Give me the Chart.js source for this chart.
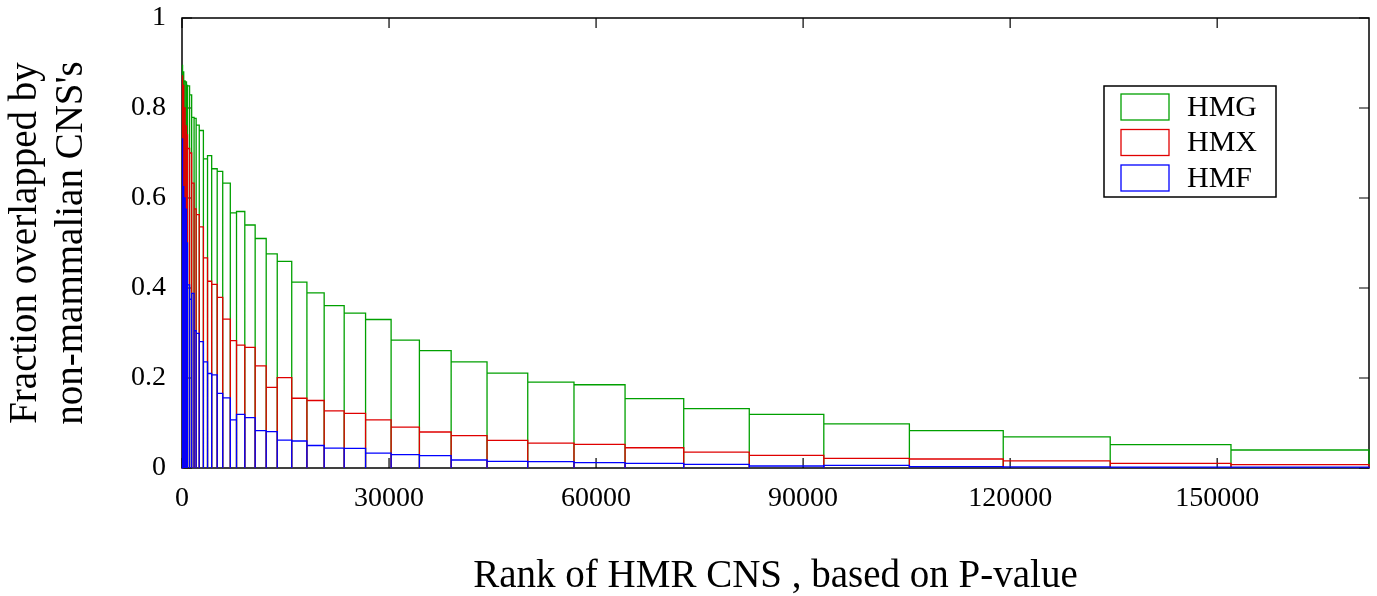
<!DOCTYPE html>
<html>
<head>
<meta charset="utf-8">
<script src="https://cdn.jsdelivr.net/npm/chart.js@4.4.0/dist/chart.umd.min.js"></script>
<style>
  html, body { margin: 0; padding: 0; background: #fff; }
</style>
</head>
<body>
<canvas id="histChart" width="1377" height="596"></canvas>
<script>
// bin edges on the rank axis (shared by all three series)
const binEdges = [0, 100, 250, 450, 650, 800, 1100, 1400, 1750, 2050, 2500, 3100, 3700, 4300,
  5100, 5900, 7000, 7900, 9100, 10600, 12200, 13800, 15900, 18100, 20600, 23500, 26600,
  30300, 34400, 39000, 44200, 50100, 56800, 64200, 72700, 82200, 93000, 105400, 119000,
  134500, 152000, 172000];

const hmgValues = [0.896, 0.88, 0.86, 0.858, 0.85, 0.849, 0.829, 0.779, 0.777, 0.762, 0.750,
  0.687, 0.694, 0.665, 0.659, 0.633, 0.567, 0.570, 0.540, 0.510, 0.476, 0.459, 0.413, 0.389,
  0.361, 0.344, 0.330, 0.284, 0.261, 0.236, 0.211, 0.191, 0.185, 0.154, 0.132, 0.119, 0.098,
  0.083, 0.069, 0.052, 0.040];

const hmxValues = [0.873, 0.85, 0.80, 0.76, 0.74, 0.710, 0.70, 0.633, 0.576, 0.563, 0.536,
  0.467, 0.415, 0.408, 0.379, 0.331, 0.283, 0.273, 0.268, 0.227, 0.179, 0.201, 0.155, 0.150,
  0.127, 0.1215, 0.107, 0.091, 0.080, 0.072, 0.0615, 0.0555, 0.0526, 0.045, 0.0355, 0.028,
  0.0215, 0.020, 0.016, 0.0104, 0.0074];

const hmfValues = [0.733, 0.625, 0.60, 0.575, 0.50, 0.407, 0.375, 0.388, 0.305, 0.299, 0.281,
  0.236, 0.210, 0.207, 0.166, 0.156, 0.107, 0.119, 0.112, 0.083, 0.081, 0.062, 0.060, 0.050,
  0.044, 0.0437, 0.033, 0.0296, 0.0274, 0.0178, 0.0148, 0.014, 0.0119, 0.0104, 0.0081, 0.0044,
  0.006, 0.003, 0.0024, 0.002, 0.002];

const xTicks = [0, 30000, 60000, 90000, 120000, 150000];
const yTicks = [0, 0.2, 0.4, 0.6, 0.8, 1];
const seriesNames = ['HMG', 'HMX', 'HMF'];
const seriesColors = ['#00a000', '#e00000', '#0000ff'];

const serif = "'Liberation Serif', 'DejaVu Serif', serif";

// trace each bin as a closed rectangle from the baseline
function outline(values) {
  const pts = [];
  values.forEach((v, i) => {
    pts.push({x: binEdges[i], y: 0});
    pts.push({x: binEdges[i], y: v});
    pts.push({x: binEdges[i + 1], y: v});
    pts.push({x: binEdges[i + 1], y: 0});
  });
  return pts;
}

const allValues = [hmgValues, hmxValues, hmfValues];
const datasets = seriesNames.map((name, i) => ({
  label: name,
  data: outline(allValues[i]),
  borderColor: seriesColors[i],
  borderWidth: 1.3,
  pointRadius: 0,
  fill: false,
  tension: 0,
  clip: 4,
  order: 2 - i
}));

const axesPlugin = {
  id: 'matlabAxes',
  beforeDatasetsDraw(chart) {
    const {ctx, chartArea: a, scales: {x, y}} = chart;
    ctx.save();
    ctx.strokeStyle = '#000';
    ctx.lineWidth = 1.5;
    ctx.strokeRect(a.left, a.top, a.right - a.left, a.bottom - a.top);
    ctx.lineWidth = 1.2;
    ctx.beginPath();
    xTicks.forEach(t => {
      const px = x.getPixelForValue(t);
      ctx.moveTo(px, a.bottom); ctx.lineTo(px, a.bottom - 10);
      ctx.moveTo(px, a.top); ctx.lineTo(px, a.top + 10);
    });
    yTicks.forEach(t => {
      const py = y.getPixelForValue(t);
      ctx.moveTo(a.left, py); ctx.lineTo(a.left + 10, py);
      ctx.moveTo(a.right, py); ctx.lineTo(a.right - 10, py);
    });
    ctx.stroke();
    ctx.restore();
  },
  afterDraw(chart) {
    const {ctx, chartArea: a} = chart;
    const boxL = a.right - 265, boxT = a.top + 68;
    ctx.save();
    ctx.fillStyle = '#fff';
    ctx.fillRect(boxL, boxT, 172, 111);
    ctx.strokeStyle = '#000';
    ctx.lineWidth = 1.5;
    ctx.strokeRect(boxL, boxT, 172, 111);
    ctx.font = '30px ' + serif;
    ctx.textBaseline = 'middle';
    chart.data.datasets.forEach((ds, i) => {
      const rowT = boxT + 8 + i * 35.5;
      ctx.strokeStyle = ds.borderColor;
      ctx.lineWidth = 1.3;
      ctx.strokeRect(boxL + 17, rowT, 48, 26);
      ctx.fillStyle = '#000';
      ctx.fillText(ds.label, boxL + 83, rowT + 14);
    });
    ctx.restore();
  }
};

new Chart(document.getElementById('histChart'), {
  type: 'line',
  data: {datasets: datasets},
  plugins: [axesPlugin],
  options: {
    responsive: false,
    animation: false,
    layout: {padding: {top: 18, right: 8, left: 0, bottom: 0}},
    plugins: {legend: {display: false}, tooltip: {enabled: false}},
    scales: {
      x: {
        type: 'linear',
        min: 0,
        max: 172000,
        afterBuildTicks: s => { s.ticks = xTicks.map(v => ({value: v})); },
        afterFit: s => { s.height = 128; s.paddingLeft = 0; s.paddingRight = 0; },
        grid: {display: false, drawTicks: false},
        border: {display: false},
        ticks: {
          color: '#000',
          padding: 14,
          maxRotation: 0,
          font: {family: serif, size: 28},
          callback: v => String(v)
        },
        title: {
          display: true,
          text: 'Rank of HMR CNS , based on P-value',
          color: '#000',
          font: {family: serif, size: 39, lineHeight: 1},
          padding: {top: 0, bottom: 0}
        }
      },
      y: {
        min: 0,
        max: 1,
        afterBuildTicks: s => { s.ticks = yTicks.map(v => ({value: v})); },
        afterFit: s => { s.width = 182; s.paddingTop = 0; s.paddingBottom = 0; },
        grid: {display: false, drawTicks: false},
        border: {display: false},
        ticks: {
          color: '#000',
          padding: 16,
          font: {family: serif, size: 28},
          callback: v => String(v)
        },
        title: {
          display: true,
          text: ['Fraction overlapped by', "non-mammalian CNS's"],
          color: '#000',
          font: {family: serif, size: 39, lineHeight: 1.2},
          padding: {top: 2, bottom: 0}
        }
      }
    }
  }
});
</script>
</body>
</html>
